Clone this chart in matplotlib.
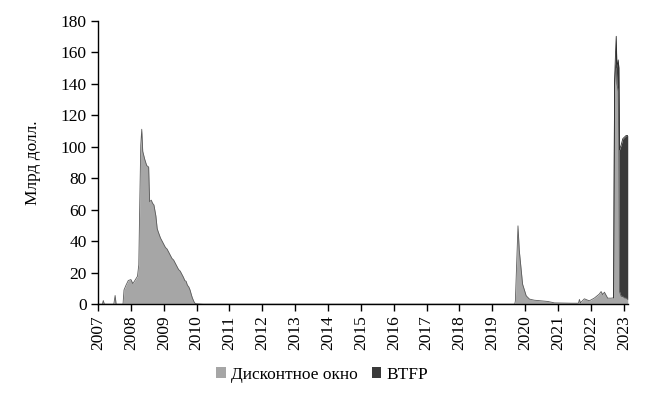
import matplotlib
matplotlib.use("Agg")
import matplotlib.pyplot as plt
import numpy as np
from matplotlib.patches import Patch

plt.rcParams["font.family"] = ["Liberation Serif", "DejaVu Serif"]

# Discount window, billions USD (x in fractional years, as placed on the chart axis)
dw_years = [
    2007.00, 2007.13, 2007.16, 2007.19, 2007.48, 2007.52, 2007.55, 2007.76,
    2007.79, 2007.85, 2007.92, 2008.00, 2008.06, 2008.12, 2008.20, 2008.24,
    2008.27, 2008.30, 2008.33, 2008.36, 2008.42, 2008.48, 2008.54, 2008.57,
    2008.62, 2008.66, 2008.70, 2008.76, 2008.80, 2008.83, 2008.90, 2008.95,
    2009.00, 2009.05, 2009.10, 2009.15, 2009.20, 2009.25, 2009.30, 2009.35,
    2009.40, 2009.45, 2009.50, 2009.55, 2009.60, 2009.64, 2009.68, 2009.72,
    2009.76, 2009.80, 2009.84, 2009.87, 2009.92, 2009.96, 2010.20, 2019.68,
    2019.70, 2019.78, 2019.82, 2019.92, 2020.03, 2020.13, 2020.28, 2020.49,
    2020.69, 2020.89, 2021.40, 2021.62, 2021.65, 2021.68, 2021.80, 2021.95,
    2022.10, 2022.25, 2022.31, 2022.36, 2022.41, 2022.51, 2022.61, 2022.69,
    2022.72, 2022.75, 2022.77, 2022.79, 2022.83, 2022.85, 2022.87, 2022.92,
    2022.97, 2023.02, 2023.07, 2023.12,
]
dw_values = [
    0, 0, 2.3, 0, 0, 5.5, 0, 0,
    9, 12, 15, 15.6, 13, 15, 17.7, 25,
    65, 101, 111, 97, 92, 88, 87, 65,
    66, 64, 63, 56, 48, 46, 42, 40,
    38, 36, 35, 33, 31, 29, 28, 26,
    24, 22, 21, 19, 17, 15, 14.5, 12,
    11, 9, 6, 4,
    1.5, 0.3, 0, 0,
    2, 49.7, 34, 12.7, 5.3, 3.2, 2.5, 2.1,
    1.7, 0.8, 0.6, 0.6, 3, 0.8, 3.4, 2.1,
    3.8, 6.3, 8, 6, 7.6, 3.8, 3.8, 4,
    140, 150, 152, 140, 135, 100, 8, 5,
    5, 4, 4, 3,
]

# BTFP, stacked on top of the discount window (same dates as the tail of dw_years)
btfp_years = [
    2022.69, 2022.72, 2022.75, 2022.77, 2022.79, 2022.83, 2022.85, 2022.87,
    2022.92, 2022.97, 2023.02, 2023.07, 2023.12,
]
btfp_values = [0, 2, 10, 18, 10, 20, 50, 90, 96, 100, 102, 103, 104]

year_ticks = list(range(2007, 2024))
y_ticks = list(range(0, 181, 20))

GRAY = "#a6a6a6"
DARK = "#3a3a3a"


def main() -> None:
    fig = plt.figure(figsize=(6.58, 3.95), dpi=100)
    ax = fig.add_axes([0.149, 0.230, 0.805, 0.718])

    x_dw = np.array(dw_years)
    y_dw = np.array(dw_values, dtype=float)
    x_b = np.array(btfp_years)
    base = y_dw[-len(btfp_years):]
    top = base + np.array(btfp_values, dtype=float)

    ax.fill_between(x_dw, 0, y_dw, color=GRAY, linewidth=0)
    ax.plot(x_dw, y_dw, color="#5a5a5a", linewidth=0.6)
    ax.fill_between(x_b, base, top, color=DARK, linewidth=0)
    ax.plot(x_b, top, color="#2a2a2a", linewidth=0.6)

    ax.set_xlim(2007, 2023.12)
    ax.set_ylim(0, 180)
    ax.set_xticks(year_ticks)
    ax.set_xticklabels([str(y) for y in year_ticks], rotation=90)
    ax.set_yticks(y_ticks)
    ax.tick_params(direction="out", length=5, width=1, labelsize=12.5, pad=3)
    for side in ("top", "right"):
        ax.spines[side].set_visible(False)
    for side in ("left", "bottom"):
        ax.spines[side].set_linewidth(1)
    ax.set_ylabel("Млрд долл.", fontsize=12.5, labelpad=14)

    handles = [Patch(facecolor=GRAY, label="Дисконтное окно"),
               Patch(facecolor=DARK, label="BTFP")]
    fig.legend(handles=handles, loc="center", bbox_to_anchor=(0.49, 0.051), ncol=2,
               frameon=False, fontsize=12.5, handlelength=0.55, handleheight=0.55,
               handletextpad=0.3, columnspacing=0.8)

    fig.savefig("out.png", dpi=100)


if __name__ == "__main__":
    main()
